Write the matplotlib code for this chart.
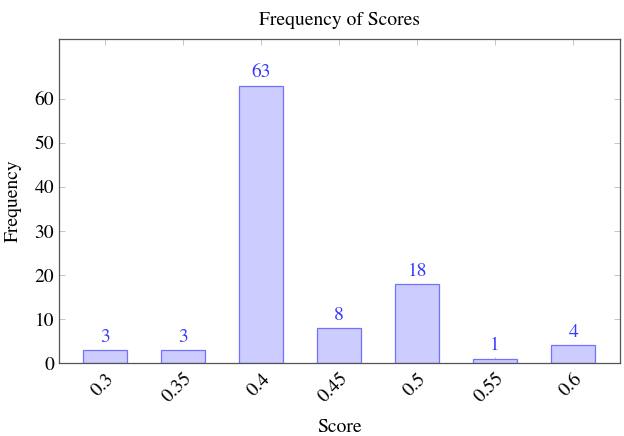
import matplotlib
matplotlib.use("Agg")
import matplotlib.pyplot as plt

scores = [0.3, 0.35, 0.4, 0.45, 0.5, 0.55, 0.6]
tick_labels = ["0.3", "0.35", "0.4", "0.45", "0.5", "0.55", "0.6"]
frequency = [3, 3, 63, 8, 18, 1, 4]

plt.rcParams['font.family'] = ['STIXGeneral', 'DejaVu Serif']
plt.rcParams['mathtext.fontset'] = 'stix'

fig = plt.figure(figsize=(6.24, 4.36), dpi=100)
ax = fig.add_axes([59/624, 1-363/436, (620-59)/624, (363-39)/436])

bars = ax.bar(scores, frequency, width=0.0282, color='#ccccff', edgecolor='#7272ff', linewidth=0.9, zorder=2)
for x, v in zip(scores, frequency):
    ax.annotate(str(v), (x, v), xytext=(0, 3), textcoords='offset points',
                ha='center', va='bottom', color='#3a3aff', fontsize=14)

ax.set_xlim(0.2705, 0.630)
ax.set_ylim(0, 73.6)
ax.set_xticks(scores)
ax.set_xticklabels(tick_labels, rotation=45, ha='right', rotation_mode='anchor', fontsize=14)
ax.set_yticks([0, 10, 20, 30, 40, 50, 60])
ax.tick_params(axis='y', labelsize=14)
ax.tick_params(axis='x', pad=5)
ax.tick_params(direction='in', top=True, right=True, length=4, width=0.6, color='#bbbbbb')
for s in ax.spines.values():
    s.set_color('#555555')
    s.set_linewidth(0.9)

ax.set_title('Frequency of Scores', fontsize=14, pad=10)
ax.set_xlabel('Score', fontsize=14, labelpad=9)
ax.set_ylabel('Frequency', fontsize=14, labelpad=9)

fig.savefig('out.png', dpi=100)
